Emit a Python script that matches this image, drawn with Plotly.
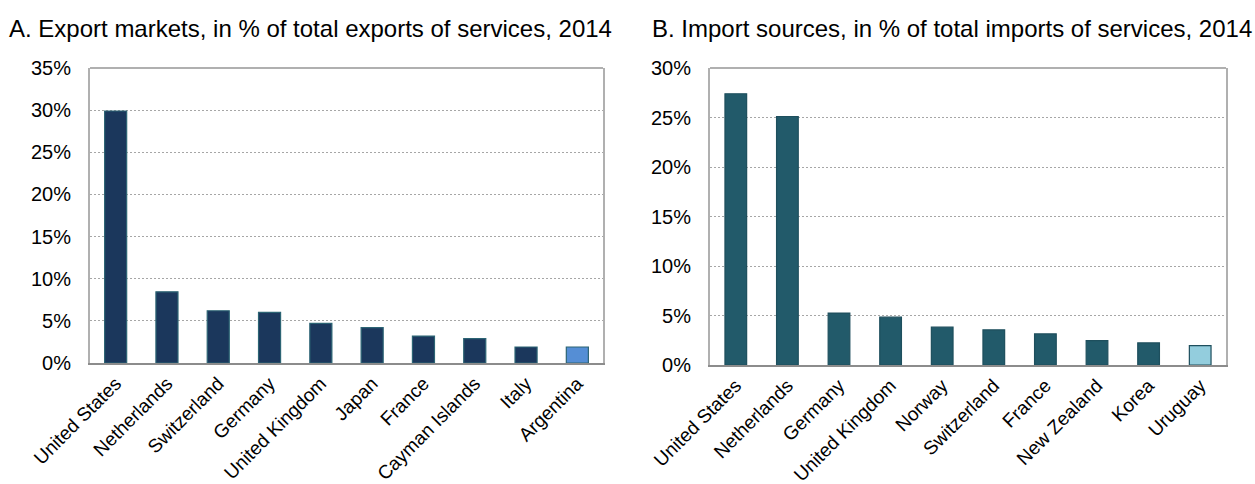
import plotly.graph_objects as go

export_countries = ["United States", "Netherlands", "Switzerland", "Germany", "United Kingdom",
                    "Japan", "France", "Cayman Islands", "Italy", "Argentina"]
export_values = [29.9, 8.45, 6.2, 6.0, 4.7, 4.2, 3.2, 2.9, 1.9, 1.9]

import_countries = ["United States", "Netherlands", "Germany", "United Kingdom", "Norway",
                    "Switzerland", "France", "New Zealand", "Korea", "Uruguay"]
import_values = [27.4, 25.1, 5.24, 4.83, 3.82, 3.55, 3.14, 2.46, 2.23, 1.96]

left_ticks = [0, 5, 10, 15, 20, 25, 30, 35]
right_ticks = [0, 5, 10, 15, 20, 25, 30]

FONT = "Liberation Sans, Arial, sans-serif"
W, H = 1255, 484

exp_colors = ["#1B375C"] * 9 + ["#558ED5"]
imp_colors = ["#225A6A"] * 9 + ["#93CDDD"]

fig = go.Figure()
fig.add_trace(go.Bar(x=export_countries, y=export_values, marker=dict(color=exp_colors,
                     line=dict(color="#2C6474", width=1.2)), width=0.43,
                     xaxis="x", yaxis="y", showlegend=False))
fig.add_trace(go.Bar(x=import_countries, y=import_values, marker=dict(color=imp_colors,
                     line=dict(color="#1E4F5D", width=1.2)), width=0.42,
                     xaxis="x2", yaxis="y2", showlegend=False))

xtickfont = dict(family=FONT, size=19, color="#000000")
ytickfont = dict(family=FONT, size=20, color="#000000")
xcommon = dict(showline=True, linecolor="#8C8C8C", linewidth=2, mirror=False, showgrid=False,
               tickangle=-45, tickfont=xtickfont, ticks="", automargin=False)
ycommon = dict(showline=True, linecolor="#B0B0B0", linewidth=2, mirror=True, showgrid=True,
               gridcolor="#A6A6A6", griddash="2px,2px", gridwidth=1, zeroline=False,
               tickfont=ytickfont, ticks="", ticklabelstandoff=13, automargin=False)

fig.update_layout(
    width=W, height=H,
    margin=dict(l=0, r=0, t=0, b=0, autoexpand=False),
    paper_bgcolor="white", plot_bgcolor="white",
    xaxis=dict(domain=[90/W, 603/W], anchor="y", **xcommon),
    yaxis=dict(domain=[1-363/H, 1-68/H], anchor="x", range=[0, 35], tickvals=left_ticks,
               ticktext=[f"{t}%" for t in left_ticks], **ycommon),
    xaxis2=dict(domain=[710/W, 1226/W], anchor="y2", **xcommon),
    yaxis2=dict(domain=[1-365/H, 1-68/H], anchor="x2", range=[0, 30], tickvals=right_ticks,
                ticktext=[f"{t}%" for t in right_ticks], **ycommon),
    shapes=[
        dict(type="line", xref="x domain", yref="y domain", x0=0, x1=1, y0=1, y1=1,
             line=dict(color="#B0B0B0", width=2)),
        dict(type="line", xref="x2 domain", yref="y2 domain", x0=0, x1=1, y0=1, y1=1,
             line=dict(color="#B0B0B0", width=2)),
    ],
    annotations=[
        dict(text="A. Export markets, in % of total exports of services, 2014", x=7/W, y=1-28/H,
             xref="paper", yref="paper", xanchor="left", yanchor="middle", showarrow=False,
             font=dict(family=FONT, size=24, color="#000000")),
        dict(text="B. Import sources, in % of total imports of services, 2014", x=650/W, y=1-28/H,
             xref="paper", yref="paper", xanchor="left", yanchor="middle", showarrow=False,
             font=dict(family=FONT, size=24, color="#000000")),
    ],
)

fig.write_html("out.html", config={"displayModeBar": False},
               post_script="document.body.style.margin='0';document.body.style.padding='0';")
